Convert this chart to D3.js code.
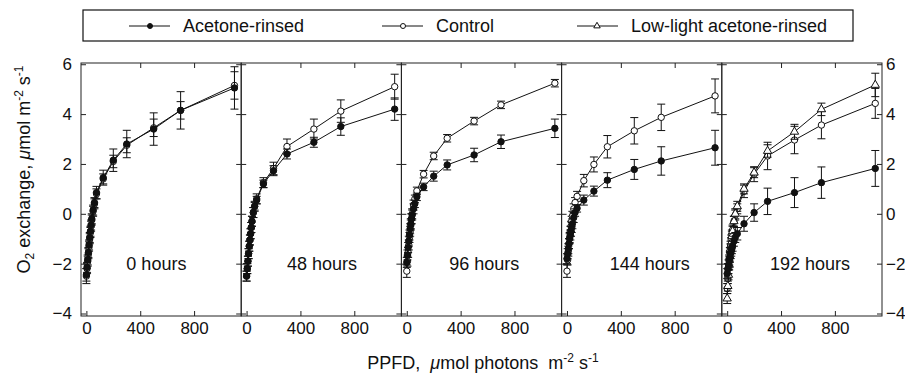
<!DOCTYPE html>
<html>
<head>
<meta charset="utf-8">
<script src="https://cdn.jsdelivr.net/npm/d3@7"></script>
<style>
  body { margin: 0; background: #fff; }
  svg text { font-family: "Liberation Sans", Arial, sans-serif; fill: #111; }
</style>
</head>
<body>
<svg id="chart"></svg>
<script>
let width = 905,
    height = 376,
    svg = d3.select("#chart").attr("width", width).attr("height", height);

// light levels (PPFD) shared by all curves
const ppfd = [0, 5, 10, 15, 20, 25, 30, 35, 40, 50, 60, 75, 125, 200, 300, 500, 700, 1100];
const panelLabels = ["0 hours", "48 hours", "96 hours", "144 hours", "192 hours"];

// acetone-rinsed, one row per panel
const acetoneMean = [
  [-2.45, -2.15, -1.85, -1.55, -1.25, -0.95, -0.7, -0.45, -0.2, 0.15, 0.45, 0.85, 1.45, 2.15, 2.8, 3.4, 4.15, 5.05],
  [-2.5, -2.2, -1.9, -1.6, -1.3, -1.05, -0.8, -0.55, -0.3, 0.05, 0.3, 0.55, 1.2, 1.73, 2.4, 2.87, 3.5, 4.2],
  [-1.95, -1.65, -1.35, -1.1, -0.85, -0.6, -0.4, -0.2, -0.05, 0.2, 0.4, 0.68, 1.08, 1.51, 1.96, 2.36, 2.89, 3.43],
  [-1.8, -1.6, -1.4, -1.2, -1.0, -0.85, -0.7, -0.55, -0.4, -0.15, 0.05, 0.22, 0.55, 0.91, 1.35, 1.78, 2.12, 2.65],
  [-2.4, -2.2, -2.05, -1.9, -1.75, -1.6, -1.5, -1.4, -1.3, -1.1, -0.95, -0.8, -0.4, 0.05, 0.5, 0.85, 1.25, 1.82]
];
const acetoneSE = [
  [0.25, 0.2, 0.2, 0.2, 0.2, 0.2, 0.2, 0.2, 0.2, 0.2, 0.2, 0.25, 0.3, 0.45, 0.55, 0.65, 0.75, 0.85],
  [0.2, 0.2, 0.2, 0.2, 0.2, 0.2, 0.2, 0.2, 0.2, 0.2, 0.15, 0.15, 0.15, 0.2, 0.2, 0.2, 0.35, 0.45],
  [0.2, 0.2, 0.2, 0.2, 0.2, 0.2, 0.2, 0.2, 0.2, 0.2, 0.15, 0.15, 0.15, 0.2, 0.2, 0.27, 0.27, 0.37],
  [0.2, 0.2, 0.2, 0.2, 0.2, 0.2, 0.2, 0.2, 0.2, 0.2, 0.15, 0.15, 0.2, 0.2, 0.3, 0.4, 0.57, 0.7],
  [0.2, 0.2, 0.2, 0.2, 0.2, 0.2, 0.2, 0.2, 0.2, 0.2, 0.2, 0.25, 0.3, 0.35, 0.53, 0.6, 0.63, 0.72]
];

// control
const controlMean = [
  [-2.5, -2.2, -1.9, -1.6, -1.3, -1.0, -0.75, -0.5, -0.25, 0.1, 0.4, 0.8, 1.4, 2.1, 2.75, 3.45, 4.15, 5.15],
  [-2.5, -2.2, -1.9, -1.6, -1.3, -1.05, -0.8, -0.55, -0.3, 0.05, 0.3, 0.6, 1.25, 1.82, 2.7, 3.4, 4.12, 5.1],
  [-2.3, -1.9, -1.55, -1.25, -0.95, -0.7, -0.45, -0.2, 0.0, 0.35, 0.6, 0.92, 1.59, 2.32, 3.03, 3.72, 4.37, 5.24],
  [-2.3, -1.85, -1.5, -1.2, -0.95, -0.7, -0.5, -0.3, -0.1, 0.2, 0.45, 0.7, 1.33, 1.98, 2.69, 3.33, 3.87, 4.73],
  [-3.0, -2.6, -2.2, -1.85, -1.55, -1.3, -1.05, -0.85, -0.65, -0.3, -0.05, 0.2, 0.9, 1.59, 2.32, 2.96, 3.56, 4.43]
];
const controlSE = [
  [0.3, 0.2, 0.2, 0.2, 0.2, 0.2, 0.2, 0.2, 0.2, 0.2, 0.2, 0.2, 0.2, 0.25, 0.3, 0.35, 0.35, 0.55],
  [0.2, 0.2, 0.2, 0.2, 0.2, 0.2, 0.2, 0.2, 0.2, 0.2, 0.2, 0.2, 0.2, 0.25, 0.3, 0.4, 0.45, 0.5],
  [0.25, 0.2, 0.2, 0.2, 0.2, 0.2, 0.2, 0.2, 0.2, 0.2, 0.15, 0.15, 0.15, 0.15, 0.15, 0.15, 0.15, 0.15],
  [0.25, 0.2, 0.2, 0.2, 0.2, 0.2, 0.2, 0.2, 0.2, 0.2, 0.2, 0.2, 0.25, 0.3, 0.45, 0.53, 0.53, 0.68],
  [0.2, 0.2, 0.2, 0.2, 0.2, 0.2, 0.2, 0.2, 0.2, 0.2, 0.2, 0.2, 0.25, 0.3, 0.55, 0.55, 0.55, 0.6]
];

// low-light acetone-rinsed, only measured at 192 hours
const lowLightMean = [-3.4, -2.9, -2.45, -2.05, -1.7, -1.4, -1.15, -0.9, -0.7, -0.3, 0.0, 0.3, 1.0, 1.65, 2.52, 3.29, 4.19, 5.17];
const lowLightSE = [0.2, 0.2, 0.2, 0.2, 0.2, 0.2, 0.2, 0.2, 0.2, 0.2, 0.2, 0.2, 0.2, 0.2, 0.25, 0.3, 0.25, 0.47];

const yTicks = [-4, -2, 0, 2, 4, 6];
const xTicks = [0, 400, 800];

// layout
const plotLeft = 81, plotRight = 882, plotTop = 63, plotBottom = 316;
const panelW = (plotRight - plotLeft) / panelLabels.length;
const labelAt = [520, 560, 575, 615, 615]; // PPFD where each panel title is centred

let y = d3.scaleLinear().domain([-4.1, 6.05]).range([plotBottom, plotTop]);

function makeSeries(means, ses) {
  return ppfd.map((p, i) => ({ x: p, y: means[i], se: ses[i] }));
}

panelLabels.forEach(function (label, k) {
  let x = d3.scaleLinear().domain([-40, 1150]).range([plotLeft + k * panelW, plotLeft + (k + 1) * panelW]);
  let g = svg.append("g");

  // frame
  g.append("rect")
    .attr("x", x.range()[0]).attr("y", plotTop)
    .attr("width", panelW).attr("height", plotBottom - plotTop)
    .attr("fill", "none").attr("stroke", "#222").attr("stroke-width", 1);

  // ticks (inward)
  let axL = g.append("g").attr("transform", "translate(" + x.range()[0] + ",0)")
    .call(d3.axisLeft(y).tickValues(yTicks).tickSize(-5).tickPadding(9));
  if (k > 0) axL.selectAll("text").remove();
  let axR = g.append("g").attr("transform", "translate(" + x.range()[1] + ",0)")
    .call(d3.axisRight(y).tickValues(yTicks).tickSize(-5).tickPadding(4));
  if (k < panelLabels.length - 1) axR.selectAll("text").remove();
  g.append("g").attr("transform", "translate(0," + plotBottom + ")")
    .call(d3.axisBottom(x).tickValues(xTicks).tickSize(-5).tickPadding(6));
  g.append("g").attr("transform", "translate(0," + plotTop + ")")
    .call(d3.axisTop(x).tickValues([400, 800]).tickSize(-5))
    .selectAll("text").remove();
  g.selectAll(".domain").remove();
  g.selectAll(".tick line").attr("stroke", "#222");
  g.selectAll(".tick text").style("font-size", "17px").attr("fill", "#111");

  // panel label
  g.append("text")
    .attr("x", x(labelAt[k])).attr("y", y(-2.05))
    .attr("text-anchor", "middle")
    .attr("dominant-baseline", "middle")
    .style("font-size", "18px")
    .text(label);

  let series = [
    { data: makeSeries(controlMean[k], controlSE[k]), shape: "open" },
    { data: makeSeries(acetoneMean[k], acetoneSE[k]), shape: "filled" }
  ];
  if (k === 4) series.splice(1, 0, { data: makeSeries(lowLightMean, lowLightSE), shape: "tri" });

  let line = d3.line().x(d => x(d.x)).y(d => y(d.y));

  series.forEach(function (s) {
    let sg = g.append("g");
    sg.append("path")
      .datum(s.data)
      .attr("d", line)
      .attr("fill", "none").attr("stroke", "#111").attr("stroke-width", 1);

    // error bars
    let eb = sg.selectAll("g.eb").data(s.data).enter().append("g");
    eb.append("line")
      .attr("x1", d => x(d.x)).attr("x2", d => x(d.x))
      .attr("y1", d => y(d.y - d.se)).attr("y2", d => y(d.y + d.se))
      .attr("stroke", "#111").attr("stroke-width", 1);
    [-1, 1].forEach(function (sgn) {
      eb.append("line")
        .attr("x1", d => x(d.x) - 4).attr("x2", d => x(d.x) + 4)
        .attr("y1", d => y(d.y + sgn * d.se)).attr("y2", d => y(d.y + sgn * d.se))
        .attr("stroke", "#111").attr("stroke-width", 1);
    });

    if (s.shape === "tri") {
      sg.selectAll("path.m").data(s.data).enter().append("path")
        .attr("d", d3.symbol(d3.symbolTriangle, 30))
        .attr("transform", d => "translate(" + x(d.x) + "," + y(d.y) + ")")
        .attr("fill", "#fff").attr("stroke", "#111").attr("stroke-width", 1);
    } else {
      sg.selectAll("circle").data(s.data).enter().append("circle")
        .attr("cx", d => x(d.x)).attr("cy", d => y(d.y))
        .attr("r", 3.2)
        .attr("fill", s.shape === "filled" ? "#111" : "#fff")
        .attr("stroke", "#111").attr("stroke-width", 1);
    }
  });
});

// axis titles
let yt = svg.append("text")
  .attr("transform", "translate(30," + ((plotTop + plotBottom) / 2 - 20) + ") rotate(-90)")
  .attr("text-anchor", "middle")
  .style("font-size", "18px");
yt.append("tspan").text("O");
yt.append("tspan").attr("dy", 4).style("font-size", "12px").text("2");
yt.append("tspan").attr("dy", -4).text(" exchange,  ");
yt.append("tspan").style("font-style", "italic").text("μ");
yt.append("tspan").text("mol m");
yt.append("tspan").attr("dy", -7).style("font-size", "12px").text("-2");
yt.append("tspan").attr("dy", 7).text(" s");
yt.append("tspan").attr("dy", -7).style("font-size", "12px").text("-1");

let xt = svg.append("text")
  .attr("x", 483).attr("y", 369)
  .attr("text-anchor", "middle")
  .attr("xml:space", "preserve")
  .style("font-size", "18px")
  .style("white-space", "pre");
xt.append("tspan").text("PPFD,  ");
xt.append("tspan").style("font-style", "italic").text("μ");
xt.append("tspan").text("mol photons  m");
xt.append("tspan").attr("dy", -7).style("font-size", "12px").text("-2");
xt.append("tspan").attr("dy", 7).text(" s");
xt.append("tspan").attr("dy", -7).style("font-size", "12px").text("-1");

// legend
const legendItems = [
  { name: "Acetone-rinsed", shape: "filled", x: 129 },
  { name: "Control", shape: "open", x: 382 },
  { name: "Low-light acetone-rinsed", shape: "tri", x: 577 }
];
svg.append("rect")
  .attr("x", 83).attr("y", 10).attr("width", 770).attr("height", 31)
  .attr("fill", "none").attr("stroke", "#111").attr("stroke-width", 1.2);
legendItems.forEach(function (d) {
  let lg = svg.append("g").attr("transform", "translate(" + d.x + ",26)");
  lg.append("line").attr("x1", 0).attr("x2", 41).attr("stroke", "#111");
  if (d.shape === "tri") {
    lg.append("path").attr("d", d3.symbol(d3.symbolTriangle, 18))
      .attr("transform", "translate(20,0)").attr("fill", "#fff").attr("stroke", "#111");
  } else {
    lg.append("circle").attr("cx", 21).attr("r", 2.5)
      .attr("fill", d.shape === "filled" ? "#111" : "#fff").attr("stroke", "#111");
  }
  lg.append("text").attr("x", 54).attr("y", 0).attr("dy", "0.35em")
    .style("font-size", "18px").text(d.name);
});
</script>
</body>
</html>
